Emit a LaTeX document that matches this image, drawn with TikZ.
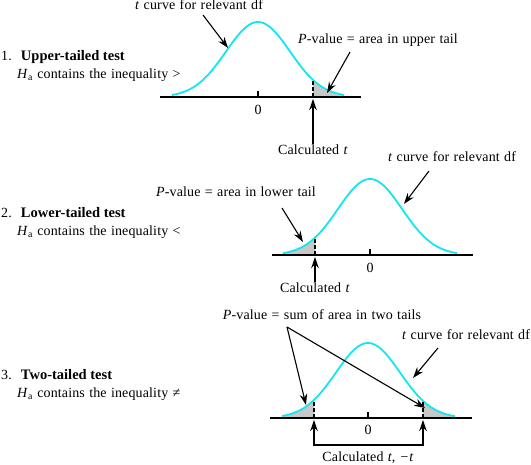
\documentclass[tikz,border=0pt]{standalone}
\usepackage{fontspec}
\setmainfont[LetterSpace=1, WordSpace=1.2, BoldFeatures={LetterSpace=0, WordSpace=1}]{Liberation Serif}
\usetikzlibrary{arrows.meta}
\definecolor{tcyan}{RGB}{20,230,240}
\newcommand{\testname}[1]{{\fontsize{14.5}{16}\selectfont\textbf{#1}}}
\begin{document}
\begin{tikzpicture}[x=1pt, y=-1pt, font=\fontsize{14}{16}\selectfont,
	tcurve/.style={tcyan, line width=1.8pt},
	axis/.style={line width=1.8pt},
	cutline/.style={line width=1.3pt, dash pattern=on 4pt off 2pt},
	tail/.style={fill=black!22},
	pointer/.style={-{Stealth[length=11pt, width=7.5pt]}, line width=1.1pt},
	lbl/.style={inner sep=1pt}]
	\useasboundingbox (0,0) rectangle (531,464);
	% Left texts:
	\node[lbl, anchor=west](T1) at (0,57){1.\hspace{9pt}\testname{Upper-tailed test}};
	\node[lbl, anchor=west](H1) at (16,75){\textit{H}\textsubscript{a} contains the inequality >};
	\node[lbl, anchor=west](T2) at (0,213){2.\hspace{9pt}\testname{Lower-tailed test}};
	\node[lbl, anchor=west](H2) at (16,232){\textit{H}\textsubscript{a} contains the inequality <};
	\node[lbl, anchor=west](T3) at (0,375){3.\hspace{9pt}\testname{Two-tailed test}};
	\node[lbl, anchor=west](H3) at (16,394){\textit{H}\textsubscript{a} contains the inequality ≠};
	% Panel 1, upper tail:
	\fill[tail] (313,97) -- plot[domain=313:344, samples=20] ({\x},{97-75*exp(-((\x-258)/32)^2/2)}) -- (344,97) -- cycle;
	\draw[tcurve] plot[domain=172:344, samples=80] ({\x},{97-75*exp(-((\x-258)/32)^2/2)});
	\draw[axis] (160,97) -- (361,97);
	\draw[line width=1.1pt] (258,91) -- (258,97);
	\draw[cutline] (313,97) -- (313,80);
	\node[lbl](Z1) at (258,110){0};
	\node[lbl](C1) at (313,150){Calculated \textit{t}};
	\coordinate (A1) at (313,99);
	\draw[pointer] (C1) -- (A1);
	\node[lbl](L1) at (199,5){\textit{t} curve for relevant df};
	\coordinate (S1) at (203,15);
	\coordinate (K1) at (228,48);
	\draw[pointer] (S1) -- (K1);
	\node[lbl](P1) at (378,40){\textit{P}-value = area in upper tail};
	\coordinate (Q1) at (350,52);
	\coordinate (R1) at (327,93);
	\draw[pointer] (Q1) -- (R1);
	% Panel 2, lower tail:
	\fill[tail] (283,255) -- plot[domain=283:315, samples=20] ({\x},{255-76*exp(-((\x-370)/32)^2/2)}) -- (315,255) -- cycle;
	\draw[tcurve] plot[domain=283:457, samples=80] ({\x},{255-76*exp(-((\x-370)/32)^2/2)});
	\draw[axis] (272,255) -- (473,255);
	\draw[line width=1.1pt] (370,249) -- (370,255);
	\draw[cutline] (315,255) -- (315,237);
	\node[lbl](Z2) at (370,268){0};
	\node[lbl](C2) at (315,288){Calculated \textit{t}};
	\coordinate (A2) at (315,257);
	\draw[pointer] (C2) -- (A2);
	\node[lbl](L2) at (452,157){\textit{t} curve for relevant df};
	\coordinate (S2) at (429,171);
	\coordinate (K2) at (404,204);
	\draw[pointer] (S2) -- (K2);
	\node[lbl](P2) at (236,192){\textit{P}-value = area in lower tail};
	\coordinate (Q2) at (282,208);
	\coordinate (R2) at (303,242);
	\draw[pointer] (Q2) -- (R2);
	% Panel 3, two tails:
	\fill[tail] (282,418) -- plot[domain=282:314, samples=20] ({\x},{418-75*exp(-((\x-368)/32)^2/2)}) -- (314,418) -- cycle;
	\fill[tail] (423,418) -- plot[domain=423:455, samples=20] ({\x},{418-75*exp(-((\x-368)/32)^2/2)}) -- (455,418) -- cycle;
	\draw[tcurve] plot[domain=282:455, samples=80] ({\x},{418-75*exp(-((\x-368)/32)^2/2)});
	\draw[axis] (270,418) -- (472,418);
	\draw[line width=1.1pt] (368,412) -- (368,418);
	\draw[cutline] (314,418) -- (314,401);
	\draw[cutline] (423,418) -- (423,401);
	\node[lbl](Z3) at (368,430){0};
	\coordinate (AL) at (314,420);
	\coordinate (AR) at (423,420);
	\coordinate (B3) at (314,445);
	\draw[pointer, {Stealth[length=11pt, width=7.5pt]}-{Stealth[length=11pt, width=7.5pt]}] (AL) -- (B3) -| (AR);
	\node[lbl](C3) at (368,458){Calculated \textit{t}, \textit{−t}};
	\node[lbl](L3) at (466,335){\textit{t} curve for relevant df};
	\coordinate (S3) at (438,348);
	\coordinate (K3) at (413,378);
	\draw[pointer] (S3) -- (K3);
	\node[lbl](P3) at (322,315){\textit{P}-value = sum of area in two tails};
	\coordinate (Q3) at (287,327);
	\coordinate (RL) at (306,405);
	\coordinate (RR) at (425,408);
	\draw[pointer] (Q3) -- (RL);
	\draw[pointer] (Q3) -- (RR);
\end{tikzpicture}
\end{document}
